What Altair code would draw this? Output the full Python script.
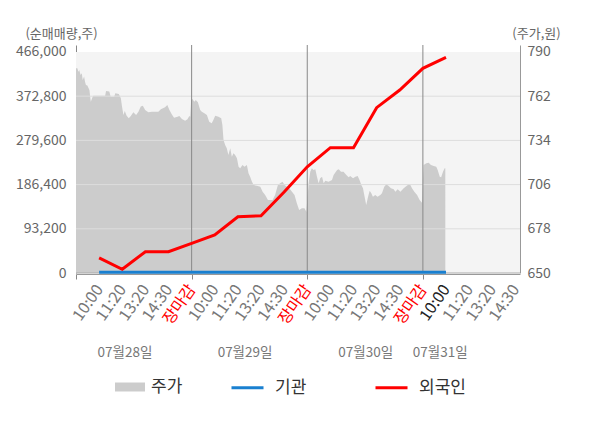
import altair as alt
import pandas as pd

FONT = "Noto Sans CJK KR"

# ---- x axis (time slots: 5 per trading day) ----
TICK_LABELS = ["", "10:00", "11:20", "13:20", "14:30", "장마감",
               "10:00", "11:20", "13:20", "14:30", "장마감",
               "10:00", "11:20", "13:20", "14:30", "장마감",
               "10:00", "11:20", "13:20", "14:30"]
DAY_BOUNDS = [5, 10, 15]
DATE_LABELS = ["07월28일", "07월29일", "07월30일", "07월31일"]
DATE_POS = [2.12, 7.31, 12.53, 15.75]

# ---- left axis: net buying volume (shares) ----
VOL_TICKS = [0, 93200, 186400, 279600, 372800, 466000]
FLOW_U = list(range(1, 17))
FOREIGN = [32000, 7800, 44900, 44900, 62600, 80100, 118700, 120800,
           170800, 224100, 264200, 264200, 348600, 385900, 431600, 454800]
INSTITUTION = [1500] * 16

# ---- right axis: stock price (won) ----
PRICE_TICKS = [650, 678, 706, 734, 762, 790]
DAY1_U = [0, 0.06, 0.10, 0.14, 0.20, 0.25, 0.29, 0.35, 0.39, 0.43,
          0.49, 0.58, 0.64, 0.72, 0.75, 1.26, 1.30, 1.44, 1.50, 1.65,
          1.70, 1.85, 1.94, 1.98, 2.05, 2.11, 2.19, 2.28, 2.37, 2.48,
          2.60, 2.70, 2.80, 2.89, 2.99, 3.13, 3.28, 3.56, 3.67, 3.85,
          3.95, 4.04, 4.14, 4.24, 4.39, 4.47, 4.58, 4.72, 4.82, 4.90]
DAY1_P = [779.7, 779.7, 777.5, 778.6, 775.4, 776.5, 772.3, 774.4, 771.2, 769.1,
          768.7, 765.9, 758.5, 761.7, 762.3, 762.3, 765.3, 764.9, 761.7, 761.7,
          763.8, 763.4, 760.7, 756.4, 750.1, 752.6, 749.6, 748.0, 749.5, 751.8,
          750.1, 752.2, 755.4, 756.0, 753.3, 751.8, 752.2, 752.2, 753.7, 755.0,
          756.4, 753.3, 750.5, 748.4, 749.0, 749.5, 747.6, 746.5, 747.4, 749.5]
DAY2_U = [4.94, 4.98, 5.03, 5.12, 5.18, 5.27, 5.37, 5.44, 5.55, 5.66,
          5.76, 5.87, 5.94, 6.02, 6.16, 6.28, 6.33, 6.38, 6.45, 6.52,
          6.59, 6.67, 6.74, 6.81, 6.88, 6.96, 7.03, 7.10, 7.20, 7.29,
          7.39, 7.46, 7.53, 7.61, 7.68, 7.82, 7.97, 8.07, 8.18, 8.30,
          8.50, 8.61, 8.73, 8.83, 8.93, 9.02, 9.12, 9.22, 9.34, 9.45,
          9.55, 9.65, 9.77, 9.88, 9.96]
DAY2_P = [749.0, 759.6, 760.2, 758.5, 759.6, 758.1, 753.3, 752.2, 751.2, 750.1,
          745.8, 744.8, 746.9, 749.6, 749.0, 748.0, 743.8, 734.3, 731.1, 729.0,
          724.8, 729.0, 723.7, 725.8, 724.8, 722.7, 717.3, 716.3, 718.4, 717.3,
          718.4, 713.2, 711.0, 707.8, 705.7, 705.3, 704.7, 701.5, 699.4, 696.2,
          696.2, 699.4, 705.7, 706.8, 707.8, 705.7, 704.7, 703.7, 701.5, 699.4,
          694.2, 689.9, 691.0, 691.0, 688.8]
DAY3_U = [10.06, 10.13, 10.20, 10.27, 10.35, 10.42, 10.49, 10.56, 10.64, 10.71,
          10.78, 10.92, 11.07, 11.14, 11.29, 11.36, 11.46, 11.57, 11.69, 11.79,
          11.86, 11.98, 12.08, 12.18, 12.26, 12.34, 12.41, 12.48, 12.55, 12.63,
          12.70, 12.77, 12.84, 12.94, 13.04, 13.16, 13.23, 13.33, 13.42, 13.52,
          13.62, 13.74, 13.81, 13.91, 14.03, 14.17, 14.29, 14.39, 14.46, 14.53,
          14.63, 14.75, 14.86, 14.96]
DAY3_P = [706.8, 714.2, 716.3, 715.3, 715.7, 711.0, 706.8, 710.0, 711.0, 706.8,
          708.5, 707.8, 708.9, 712.1, 715.3, 715.7, 714.2, 714.2, 712.1, 710.6,
          711.4, 710.0, 711.0, 711.4, 708.9, 705.7, 703.7, 698.3, 693.1, 698.3,
          702.1, 700.5, 698.3, 699.4, 698.3, 699.4, 700.5, 704.7, 706.2, 705.1,
          703.7, 703.0, 701.5, 703.0, 701.5, 703.7, 705.1, 706.2, 705.7, 703.7,
          701.5, 699.4, 696.2, 694.5]
DAY4_U = [15.03, 15.15, 15.25, 15.35, 15.47, 15.58, 15.64, 15.73, 15.79, 15.87, 15.94, 15.97]
DAY4_P = [718.4, 719.5, 719.9, 718.4, 717.8, 717.3, 715.3, 711.0, 710.6, 714.2, 716.3, 716.3]

# ---- tables ----
price_df = pd.DataFrame({
    "u": DAY1_U + DAY2_U + DAY3_U + DAY4_U,
    "p": DAY1_P + DAY2_P + DAY3_P + DAY4_P,
})
price_df["series"] = "주가"
flow_df = pd.concat([
    pd.DataFrame({"u": FLOW_U, "v": INSTITUTION, "series": "기관"}),
    pd.DataFrame({"u": FLOW_U, "v": FOREIGN, "series": "외국인"}),
])
grid_df = pd.DataFrame({"v": VOL_TICKS[1:-1]})
zero_df = pd.DataFrame({"v": [0]})
bound_df = pd.DataFrame({"u": DAY_BOUNDS})
date_df = pd.DataFrame({"u": DATE_POS, "label": DATE_LABELS})
bg_df = pd.DataFrame({"lo": [PRICE_TICKS[0]], "hi": [PRICE_TICKS[-1]]})

W, H = 444, 228
x_scale = alt.Scale(domain=[0, 19.2], nice=False, zero=False)
vol_scale = alt.Scale(domain=[0, 480760], nice=False, zero=False)
price_scale = alt.Scale(domain=[650, 794.43], nice=False, zero=False)

labels_js = "[" + ",".join("'%s'" % t for t in TICK_LABELS) + "]"
x_axis = alt.Axis(
    values=list(range(len(TICK_LABELS))),
    labelExpr=labels_js + "[datum.value]",
    labelAngle=-55, labelAlign="right", labelBaseline="middle",
    labelFont=FONT, labelFontSize=16, labelPadding=7,
    labelOverlap=False, labelFlush=False,
    labelColor={"condition": [
        {"test": "datum.value > 0 && datum.value % 5 == 0", "value": "#ff0000"},
        {"test": "datum.value == 16", "value": "#222222"}],
        "value": "#777777"},
    tickColor={"condition": {"test": "datum.value % 5 == 0", "value": "#888888"},
               "value": "transparent"},
    tickSize=5, domainColor="#999999", grid=False, title=None, offset=1,
)
left_axis = alt.Axis(
    orient="left", values=VOL_TICKS, format=",d", grid=False,
    labelFont=FONT, labelFontSize=14, labelColor="#666666", labelPadding=10,
    tickSize=0, domainColor="#888888",
    title="(순매매량,주)", titleAngle=0, titleAlign="center", titleBaseline="middle",
    titleX=-15, titleY=-12, titleFont=FONT, titleFontSize=13,
    titleFontWeight="normal", titleColor="#666666",
)
right_axis = alt.Axis(
    orient="right", values=PRICE_TICKS, grid=False,
    labelFont=FONT, labelFontSize=14, labelColor="#666666", labelPadding=7,
    tickSize=0, domainColor="#999999",
    title="(주가,원)", titleAngle=0, titleAlign="center", titleBaseline="middle",
    titleX=16, titleY=-12, titleFont=FONT, titleFontSize=13,
    titleFontWeight="normal", titleColor="#666666",
)

bg = alt.Chart(bg_df).mark_rect(color="#f4f4f4").encode(
    x=alt.value(0), x2=alt.value(W),
    y=alt.Y("hi:Q", scale=price_scale, axis=None), y2="lo:Q",
)

area = alt.Chart(price_df).mark_area(opacity=1, interpolate="linear").encode(
    x=alt.X("u:Q", scale=x_scale, axis=x_axis),
    y=alt.Y("p:Q", scale=price_scale, axis=right_axis),
    y2=alt.datum(650),
    fill=alt.Fill("series:N", scale=alt.Scale(domain=["주가"], range=["#cccccc"]),
                  legend=alt.Legend(orient="none", legendX=39, legendY=327,
                                    title=None, padding=0,
                                    symbolType="M-1,-0.3H1V0.3H-1Z", symbolSize=900,
                                    symbolStrokeWidth=0, symbolOpacity=1,
                                    labelFont=FONT, labelFontSize=17,
                                    labelColor="#333333", labelOffset=6)),
)

grid = alt.Chart(grid_df).mark_rule(color="#dddddd", strokeWidth=1).encode(
    y=alt.Y("v:Q", scale=vol_scale, axis=None))
zero = alt.Chart(zero_df).mark_rule(color="#aaaaaa", strokeWidth=1).encode(
    y=alt.Y("v:Q", scale=vol_scale, axis=None))

bounds = alt.Chart(bound_df).mark_rule(color="#888888", strokeWidth=1).encode(
    x=alt.X("u:Q", scale=x_scale, axis=x_axis))

lines = alt.Chart(flow_df).mark_line(strokeWidth=3).encode(
    x=alt.X("u:Q", scale=x_scale, axis=x_axis),
    y=alt.Y("v:Q", scale=vol_scale, axis=left_axis),
    stroke=alt.Stroke("series:N",
                      scale=alt.Scale(domain=["기관", "외국인"], range=["#1a80d0", "#ff0000"]),
                      legend=alt.Legend(orient="none", direction="horizontal",
                                        legendX=154, legendY=325, title=None, padding=0,
                                        symbolType="stroke", symbolSize=1024,
                                        symbolStrokeWidth=3, columnPadding=62,
                                        labelFont=FONT, labelFontSize=17,
                                        labelColor="#333333", labelOffset=10)),
    detail="series:N",
)

dates = alt.Chart(date_df).mark_text(font=FONT, fontSize=13.5, color="#777777",
                                     align="center", baseline="middle").encode(
    x=alt.X("u:Q", scale=x_scale, axis=x_axis),
    y=alt.value(308),
    text="label:N",
)

chart = alt.layer(bg, area, grid, zero, bounds, lines, dates).resolve_scale(
    y="independent"
).properties(
    width=W, height=H,
    padding={"left": 68, "top": 37, "right": 72, "bottom": 140},
    autosize=alt.AutoSizeParams(type="none"),
).configure_view(stroke=None)

chart.save("out.html", embed_options={"renderer": "svg", "actions": False})
